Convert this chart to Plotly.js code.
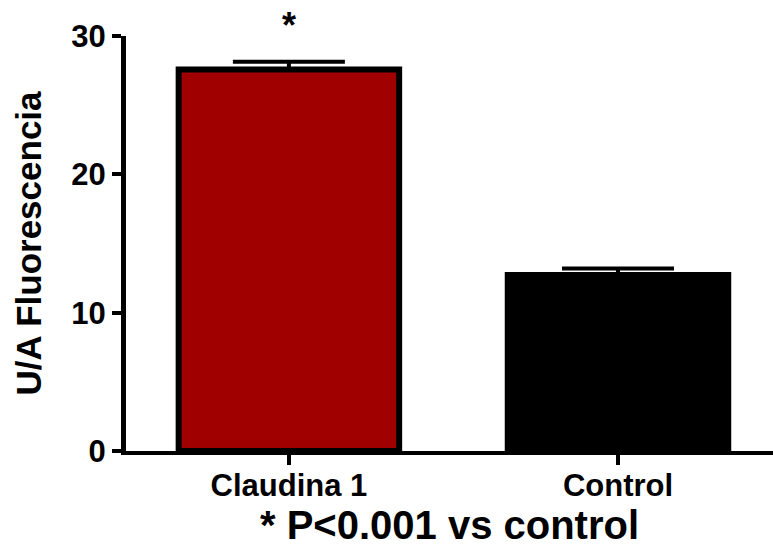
<!DOCTYPE html>
<html>
<head>
<meta charset="utf-8">
<script src="https://cdn.plot.ly/plotly-3.0.1.min.js"></script>
<style>html,body{margin:0;padding:0;background:#fff;}#chart{width:773px;height:552px;}</style>
</head>
<body>
<div id="chart"></div>
<script>
const categories = ["Claudina 1", "Control"];
const means = [27.58, 12.73];
const sems = [0.55, 0.47];
const barColors = ["#a00000", "#000000"];
const yTicks = [0, 10, 20, 30];
const yTitle = "U/A Fluorescencia";
const xTitle = "* P<0.001 vs control";
const sigMark = "*";

const F = "Liberation Sans, Arial, Helvetica, sans-serif";

const trace = {
  type: "bar",
  x: categories,
  y: means,
  width: 0.67,
  marker: { color: barColors, line: { color: "#000", width: 6 } },
  error_y: {
    type: "data", symmetric: false, array: sems, arrayminus: [0, 0],
    color: "#000", thickness: 4, width: 56
  },
  hoverinfo: "none"
};

const layout = {
  width: 773, height: 552,
  margin: { l: 126, r: 0, t: 36, b: 101 },
  paper_bgcolor: "#fff", plot_bgcolor: "#fff",
  showlegend: false,
  font: { family: F, color: "#000", weight: 700 },
  xaxis: {
    type: "category",
    range: [-0.495, 1.471],
    showline: true, linecolor: "#000", linewidth: 4,
    ticks: "outside", ticklen: 10, tickwidth: 4, tickcolor: "#000",
    ticklabelstandoff: -6,
    showgrid: false, zeroline: false,
    tickfont: { family: F, size: 31, color: "#000", weight: 700 },
    title: { text: xTitle, font: { family: F, size: 40, color: "#000", weight: 700 }, standoff: 8 }
  },
  yaxis: {
    range: [0, 30],
    tickvals: yTicks, ticktext: yTicks.map(String),
    showline: true, linecolor: "#000", linewidth: 5,
    ticks: "outside", ticklen: 9, tickwidth: 4, tickcolor: "#000",
    showgrid: false, zeroline: false,
    tickfont: { family: F, size: 31, color: "#000", weight: 700 },
    title: { text: yTitle, font: { family: F, size: 35, color: "#000", weight: 700 }, standoff: 21 }
  },
  annotations: [{
    x: categories[0], y: means[0] + sems[0], xref: "x", yref: "y",
    text: sigMark, showarrow: false, yanchor: "bottom", yshift: 14,
    font: { family: F, size: 36, color: "#000", weight: 700 }
  }]
};

Plotly.newPlot("chart", [trace], layout, { displayModeBar: false, staticPlot: true });
</script>
</body>
</html>
